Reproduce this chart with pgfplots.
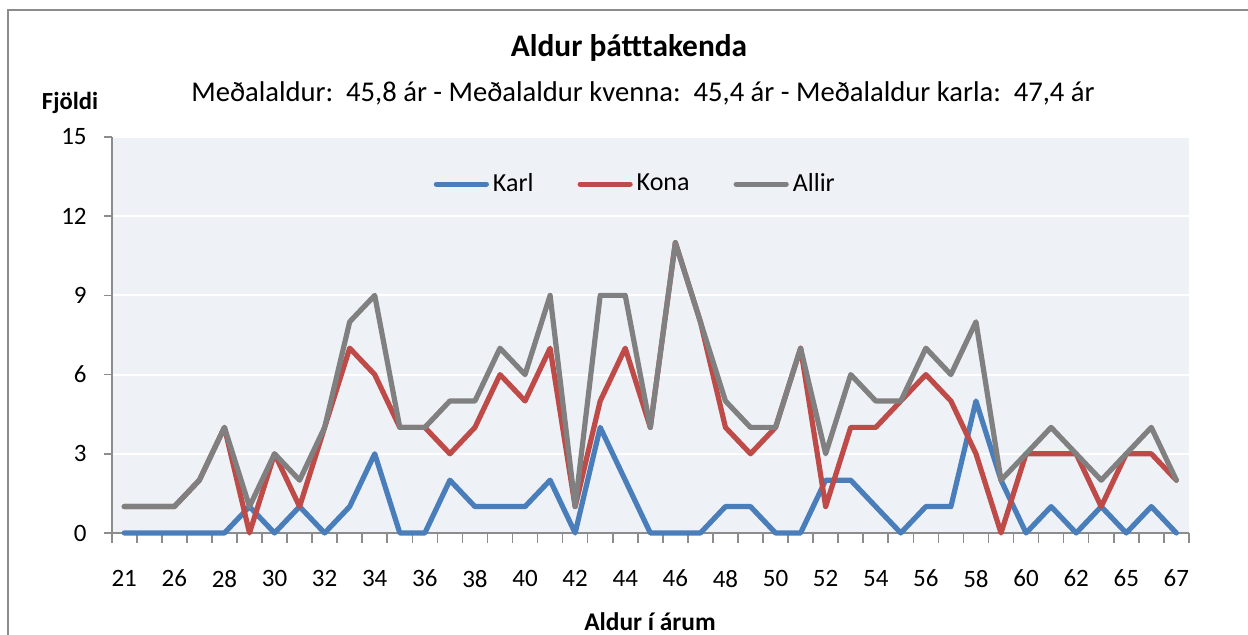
\documentclass[border=0pt]{standalone}
\usepackage{fontspec}
\setmainfont{Carlito}
\usepackage{pgfplots}
\pgfplotsset{compat=1.18}
\usepackage{pgfplotstable}
\definecolor{karl}{HTML}{4A7EBB}
\definecolor{kona}{HTML}{BE4B48}
\definecolor{allir}{HTML}{808080}
\definecolor{plotbg}{HTML}{EEF1F6}
\definecolor{axisgray}{HTML}{8C8C8C}
\pgfplotstableread{
i karl kona allir
0 0 1 1
1 0 1 1
2 0 1 1
3 0 2 2
4 0 4 4
5 1 0 1
6 0 3 3
7 1 1 2
8 0 4 4
9 1 7 8
10 3 6 9
11 0 4 4
12 0 4 4
13 2 3 5
14 1 4 5
15 1 6 7
16 1 5 6
17 2 7 9
18 0 1 1
19 4 5 9
20 2 7 9
21 0 4 4
22 0 11 11
23 0 8 8
24 1 4 5
25 1 3 4
26 0 4 4
27 0 7 7
28 2 1 3
29 2 4 6
30 1 4 5
31 0 5 5
32 1 6 7
33 1 5 6
34 5 3 8
35 2 0 2
36 0 3 3
37 1 3 4
38 0 3 3
39 1 1 2
40 0 3 3
41 1 3 4
42 0 2 2
}\datatable
\begin{document}
\begin{tikzpicture}[x=1pt,y=1pt]
\path[use as bounding box] (0,0) rectangle (624,317.5);
\draw[axisgray, line width=1pt] (4,-5) |- (630,312.5);
\begin{axis}[
  at={(55.85pt,51pt)}, anchor=south west,
  scale only axis, width=538.6pt, height=198pt,
  xmin=-0.5, xmax=42.5, ymin=0, ymax=15,
  axis background/.style={fill=plotbg},
  axis x line*=bottom, axis y line*=left,
  axis line style={axisgray, line width=0.8pt},
  every outer x axis line/.append style={-},
  every outer y axis line/.append style={-},
  tick align=outside,
  xtick={0,2,...,42},
  xticklabels={21,26,28,30,32,34,36,38,40,42,44,46,48,50,52,54,56,58,60,62,65,67},
  major x tick style={draw=none},
  minor xtick={-0.5,0.5,...,42.5},
  minor tick length=5pt,
  minor x tick style={axisgray, line width=0.8pt},
  ytick={0,3,...,15},
  major tick length=4pt,
  y tick style={axisgray, line width=0.8pt},
  ymajorgrids, grid style={white, line width=1pt},
  tick label style={font=\fontsize{12.5}{14}\selectfont, black},
  /pgf/number format/assume math mode=true,
  xticklabel style={yshift=-11pt},
  yticklabel style={xshift=-5pt},
  legend style={draw=none, fill=none, at={(0.487,0.881)}, anchor=center,
    legend columns=3, font=\fontsize{13}{15}\selectfont,
    /tikz/every even column/.append style={column sep=20pt}},
  legend image code/.code={\draw[#1, line cap=round] (0pt,0pt) -- (25pt,0pt);},
  every axis plot/.append style={line width=2.6pt, line join=round, line cap=round},
  clip=false,
]
\addplot[karl, no markers] table[x=i, y=karl] {\datatable};
\addlegendentry{Karl}
\addplot[kona, no markers] table[x=i, y=kona] {\datatable};
\addlegendentry{Kona}
\addplot[allir, no markers] table[x=i, y=allir] {\datatable};
\addlegendentry{Allir}
\end{axis}
\node[font=\bfseries\fontsize{15.7}{18}\selectfont] at (314.5,293.5) {Aldur þátttakenda};
\node[font=\fontsize{14.3}{16}\selectfont] at (321.5,271) {Meðalaldur:\ \ 45,8 ár - Meðalaldur kvenna:\ \ 45,4 ár - Meðalaldur karla:\ \ 47,4 ár};
\node[font=\bfseries\fontsize{12.3}{14}\selectfont] at (35,266) {Fjöldi};
\node[font=\bfseries\fontsize{12.7}{14}\selectfont] at (325,6.5) {Aldur í árum};
\end{tikzpicture}
\end{document}
